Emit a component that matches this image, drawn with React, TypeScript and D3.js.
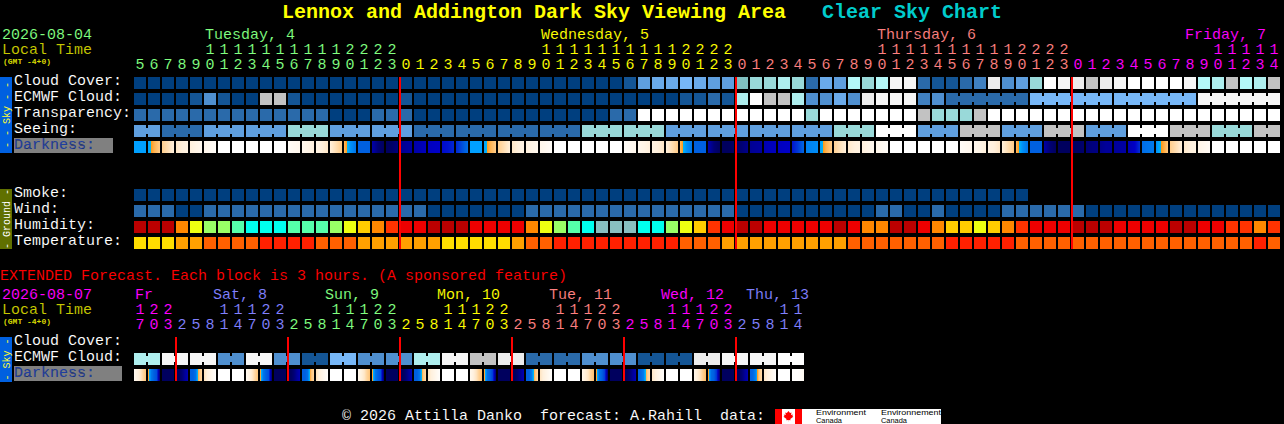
import React from "react";
import * as d3 from "d3";

// ---------- data: main forecast (one value per hour) ----------
const mainHours = [5,6,7,8,9,10,11,12,13,14,15,16,17,18,19,20,21,22,23,
  0,1,2,3,4,5,6,7,8,9,10,11,12,13,14,15,16,17,18,19,20,21,22,23,
  0,1,2,3,4,5,6,7,8,9,10,11,12,13,14,15,16,17,18,19,20,21,22,23,
  0,1,2,3,4,5,6,7,8,9,10,11,12,13,14];
const mainDayOfCol = [0,0,0,0,0,0,0,0,0,0,0,0,0,0,0,0,0,0,0,
  1,1,1,1,1,1,1,1,1,1,1,1,1,1,1,1,1,1,1,1,1,1,1,1,
  2,2,2,2,2,2,2,2,2,2,2,2,2,2,2,2,2,2,2,2,2,2,2,2,
  3,3,3,3,3,3,3,3,3,3,3,3,3,3,3];
const mainDayLabels = ["Tuesday, 4", "Wednesday, 5", "Thursday, 6", "Friday, 7"];
const mainDayLabelCols = [5, 29, 53, 75];

const cloudCover = [
  0,0,0,0,0,0,0,0,0,0, 0,0,0,0,0,0,0,0,0,0,
  0,0,0,0,0,0,0,0,0,0, 0,0,0,0,0,1,5,6,6,7,
  6,5,5,8,9,9,10,9,2,6, 5,11,9,11,14,14,2,1,1,2,
  3,13,4,5,9,15,14,13,12,13, 14,15,15,15,15,14,11,10,12,11,
  10,12];
const ecmwfCloud = [
  0,0,0,0,1,4,1,0,0,12, 12,1,0,0,0,0,0,0,0,1,
  0,0,0,0,0,0,0,0,0,0, 0,0,0,0,0,0,0,0,0,1,
  1,2,1,10,15,12,12,10,4,4, 6,4,13,14,14,14,3,4,2,2,
  2,2,2,2,7,7,7,7,7,7, 7,7,7,7,7,7,14,14,14,14,
  14,14];
const ecmwfBlockSizes = [1,1,1,1,1,1,1,1,1,1,1,1,1,1,1,1,1,1,1,1,1,1,1,1,1,1,1,1,1,
  1,1,1,1,1,1,1,1,1,1,1,1,1,1,1,1,1,1,1,1,1,1,1,1,1,1,1,1,1,6,6,6,6];
const transparency = [
  2,2,2,2,2,2,2,2,2,2, 2,2,2,2,0,0,0,2,2,2,
  0,0,0,0,0,0,0,0,0,0, 0,0,0,0,2,2,15,15,15,15,
  15,15,15,15,15,15,15,15,9,15, 15,15,15,15,15,15,12,9,9,9,
  12,15,15,15,15,15,15,15,15,15, 15,15,15,15,15,15,15,15,15,15,
  15,15];
const seeingBlocks = [5,2,5,5,9,5,5,2,2,2,2,9,9,5,5,5,5,9,15,5,12,5,12,5,15,12,9,12];
const seeingBlockSizes = [2,3,3,3,3,3,3,3,3,3,3,3,3,3,3,3,3,3,3,3,3,3,3,3,3,3,3,2];

// twilight level read across each cell: left, middle, right
const darkness = [
  [4,4,4],[4,5,5.6],[5.7,6.3,7],[6.6,7,7.2],[7,7.3,7.5],[7.4,7.6,7.8],[8,8,8],[8,8,8],[8,8,8],[8,8,8],
  [8,8,8],[7.8,7.6,7.5],[7.5,7.3,7],[7.2,7,6.6],[7,6.3,5.6],[5.2,3.8,3.3],[3,3,3],[1.3,0.5,0.2],[0.2,0.3,0.6],[0.8,1,1.2],
  [1.3,1.5,1.8],[1.8,1.9,2],[2.1,2.2,2.4],[2.4,2.8,3.2],[4,4,4],[4,5,5.6],[5.7,6.3,7],[6.6,7,7.2],[7,7.3,7.5],[7.4,7.6,7.8],
  [8,8,8],[8,8,8],[8,8,8],[8,8,8],[8,8,8],[7.8,7.6,7.5],[7.5,7.3,7],[7.2,7,6.6],[7,6.3,5.6],[5.2,3.8,3.3],
  [3,3,3],[1.3,0.5,0.2],[0.2,0.2,0.3],[0.3,0.5,0.8],[0.9,1,1.1],[1.5,1.7,1.8],[1.8,1.9,2],[2.2,2.6,3.1],[3.5,3.6,3.7],[3.9,5,5.6],
  [5.8,6.4,7],[6.7,7,7.2],[7,7.3,7.5],[7.4,7.6,7.8],[8,8,8],[8,8,8],[8,8,8],[8,8,8],[8,8,8],[7.8,7.6,7.5],
  [7.5,7.3,7],[7.2,7,6.6],[7,6.3,5.6],[5.2,3.8,3.3],[3,3,3],[1.2,0.5,0.2],[0.2,0.2,0.2],[0.2,0.3,0.4],[0.5,0.6,0.7],[0.8,1,1],
  [1,1.1,1.2],[1.5,1.9,2.5],[3.2,3.3,3.4],[3.7,4.6,5.5],[5.7,6.3,7],[6.7,7,7.2],[7.3,7.5,7.7],[8,8,8],[8,8,8],[8,8,8],
  [8,8,8],[8,8,8]];

const smoke = [
  0,0,0,0,0,0,0,0,0,0, 0,0,0,0,0,0,0,0,0,0,
  0,0,0,0,0,0,0,0,0,0, 0,0,0,0,0,0,0,0,0,0,
  0,0,0,0,0,0,0,0,0,0, 0,0,0,0,0,0,0,0,0,0,
  0,0,0,0];
const wind = [
  2,2,2,0,0,2,2,2,2,2, 2,2,2,2,2,2,2,2,2,2,
  2,0,0,0,0,0,0,0,2,2, 2,2,2,2,2,2,2,2,2,2,
  2,2,2,0,0,0,0,0,0,0, 0,0,0,2,2,0,0,2,0,0,
  0,0,2,2,2,2,2,2,0,0, 0,0,0,0,0,0,0,0,0,0,
  0,0];
const humidity = [
  0,0,0,3,5,6,6,7,8,8, 8,7,7,7,6,5,4,3,2,1,
  1,0,0,0,1,1,1,1,3,5, 6,7,8,9,9,9,8,8,6,5,
  4,2,1,0,0,1,1,1,1,1, 0,1,3,3,0,0,1,3,4,4,
  5,4,3,2,1,1,1,0,0,0, 1,1,1,1,0,0,1,1,2,2,
  3,2];
const temperature = [
  0,0,0,1,1,2,2,2,2,3, 3,3,3,2,2,2,1,1,1,1,
  1,1,0,0,0,0,0,1,2,2, 3,3,3,3,3,3,3,3,3,2,
  2,2,1,1,1,1,1,1,1,1, 1,2,2,2,2,2,2,2,3,3,
  3,3,3,2,2,2,2,2,2,2, 2,2,2,2,2,2,2,2,2,2,
  3,2];

// ---------- data: extended forecast (one value per three hours) ----------
const extHours = [17,20,23,
  2,5,8,11,14,17,20,23, 2,5,8,11,14,17,20,23, 2,5,8,11,14,17,20,23,
  2,5,8,11,14,17,20,23, 2,5,8,11,14,17,20,23, 2,5,8,11,14];
const extDayOfCol = [0,0,0, 1,1,1,1,1,1,1,1, 2,2,2,2,2,2,2,2, 3,3,3,3,3,3,3,3,
  4,4,4,4,4,4,4,4, 5,5,5,5,5,5,5,5, 6,6,6,6,6];
const extDayLabels = ["Fr", "Sat, 8", "Sun, 9", "Mon, 10", "Tue, 11", "Wed, 12", "Thu, 13"];
const extDayLabelCols = [0, 6, 14, 22, 30, 38, 44];
const extEcmwf = [10,10,14,14,14,14,4,4,14,14,4,4,1,1,7,7,4,4,4,4,10,10,14,14,12,12,13,13,2,2,2,2,4,4,4,4,1,1,1,1,13,13,14,14,14,14,15,15];
const extBlockSizes = [2,2,2,2,2,2,2,2,2,2,2,2,2,2,2,2,2,2,2,2,2,2,2,2];
const extDarkness = [
  [7.6,7.2,6.8,6,5.4],[5,3.4,3,2.8,0.3],[0.2,0.2,0.2,0.2,0.2],[0.2,0.2,0.5,1,1.6],[3,3,3.3,5.3,6],[6.4,7,7.3,7.6,7.9],[8,8,8,8,8],[8,8,8,8,8],
  [7.6,7.2,6.8,6,5.4],[5,3.4,3,2.8,0.3],[0.2,0.2,0.2,0.2,0.2],[0.2,0.2,0.5,1,1.6],[3,3,3.3,5.3,6],[6.4,7,7.3,7.6,7.9],[8,8,8,8,8],[8,8,8,8,8],
  [7.5,7.1,6.7,5.9,5.4],[5,3.4,3,2.8,0.3],[0.2,0.2,0.2,0.2,0.2],[0.2,0.2,0.5,1,1.6],[3,3,3.4,5.4,6.1],[6.5,7,7.3,7.6,7.9],[8,8,8,8,8],[8,8,8,8,8],
  [7.5,7.1,6.6,5.8,5.3],[5,3.3,3,2.6,0.3],[0.2,0.2,0.2,0.2,0.2],[0.2,0.2,0.5,1,1.6],[3,3,3.5,5.4,6.1],[6.5,7,7.3,7.6,7.9],[8,8,8,8,8],[8,8,8,8,8],
  [7.4,7,6.6,5.8,5.3],[5,3.3,3,2.6,0.3],[0.2,0.2,0.2,0.2,0.2],[0.2,0.2,0.5,1,1.6],[3,3.1,3.5,5.5,6.2],[6.6,7,7.3,7.6,7.9],[8,8,8,8,8],[8,8,8,8,8],
  [7.4,7,6.5,5.7,5.2],[4.9,3.2,3,2.5,0.3],[0.2,0.2,0.2,0.2,0.2],[0.2,0.2,0.5,1,1.6],[3,3.1,3.6,5.5,6.2],[6.6,7,7.3,7.6,7.9],[8,8,8,8,8],[7.9,7.9,7.9,7.8,7.6]];

// ---------- styles and scales ----------
const cloudRange = ["#003f7f","#145595","#2a6aaa","#4080c0","#4f8fcf","#5f9fdf","#6aaaea","#77b7f7","#80c0c0","#99d9d9","#aeeeee","#b3f7f7","#c2c2c2","#ececec","#f6f6f6","#ffffff"];
const humidityRange = ["#bb0000","#ee0000","#ff3300","#ff8800","#ffcc00","#eeff11","#99ff66","#55ffaa","#00ffee","#88c0c0"];
const temperatureRange = ["#ffdd00","#ffa000","#ff6000","#ff2000"];
const mainDayColors = ["#80ff80","#ffff00","#ff8080","#ff00ff"];
const extDayColors = ["#ff00ff","#8080ff","#80ff80","#ffff00","#ff8080","#ff00ff","#8080ff"];

const cloudColor = d3.scaleOrdinal<number, string>(d3.range(cloudRange.length), cloudRange);
const humidityColor = d3.scaleOrdinal<number, string>(d3.range(humidityRange.length), humidityRange);
const temperatureColor = d3.scaleOrdinal<number, string>(d3.range(temperatureRange.length), temperatureRange);
const darknessColor = d3.scaleLinear<string>()
  .domain([0, 1, 2, 3, 4, 4.5, 4.501, 5.5, 6.5, 7, 8])
  .range(["#00004f","#00009a","#0000c8","#0060e0","#00a0ff","#00b8f0","#ff9a18","#ffc880","#ffe4c0","#fff0dc","#ffffff"]);

const MONO = "'Liberation Mono', monospace";
const THIN = 0.08;
const CELL = 12;
const STEP = 14;
const colX = d3.scaleLinear().domain([0, 1]).range([134, 134 + STEP]);

function blockCols(sizes: number[]) {
  const starts: number[] = [];
  let c = 0;
  sizes.forEach((s) => { starts.push(c); c += s; });
  return starts;
}

function expand(values: number[], sizes: number[]) {
  return values.flatMap((v, i) => d3.range(sizes[i]).map(() => v));
}

const Cells = ({ values, y, color, sizes }: { values: number[]; y: number; color: (v: number) => string; sizes?: number[] }) => {
  const necks: number[] = [];
  if (sizes) {
    blockCols(sizes).forEach((start, b) => {
      d3.range(start, start + sizes[b] - 1).forEach((c) => necks.push(c));
    });
  }
  return (
    <g>
      {values.map((v, i) => (
        <rect key={i} x={colX(i)} y={y} width={CELL} height={CELL} fill={color(v)} />
      ))}
      {necks.map((c) => (
        <rect key={"n" + c} x={colX(c) + CELL} y={y + 3} width={STEP - CELL} height={CELL - 6} fill={color(values[c])} />
      ))}
    </g>
  );
};

const GradientCells = ({ samples, y }: { samples: number[][]; y: number }) => (
  <g shapeRendering="crispEdges">
    {samples.map((s, i) => {
      const level = d3.piecewise(d3.interpolateNumber, s);
      return d3.range(CELL).map((p) => (
        <rect key={i + "-" + p} x={colX(i) + p} y={y} width={1} height={CELL}
          fill={darknessColor(level((p + 0.5) / CELL))} />
      ));
    })}
  </g>
);

const T = ({ x, y, fill = "#fff", size = 15, weight, children }: any) => (
  <text x={x} y={y} fill={fill} fontFamily={MONO} fontSize={size} fontWeight={weight}
    stroke={size === 15 ? "#000" : "none"} strokeWidth={THIN} style={{ whiteSpace: "pre" }}>{children}</text>
);

const CenterDigit = ({ col, y, fill, children }: any) => (
  <text x={colX(col) + CELL / 2} y={y} fill={fill} fontFamily={MONO} fontSize={15} textAnchor="middle"
    stroke="#000" strokeWidth={THIN}>{children}</text>
);

const SideBar = ({ y, h, fill, color, label }: any) => (
  <g>
    <rect x={0} y={y} width={12} height={h} fill={fill} />
    <text transform={`translate(9.5,${y + h / 2}) rotate(-90)`} fill={color} fontFamily={MONO}
      fontSize={10} textAnchor="middle" style={{ whiteSpace: "pre" }}>{label}</text>
  </g>
);

const RedLine = ({ col, y1, y2 }: any) => (
  <rect x={colX(col) - 1} y={y1} width={2} height={y2 - y1} fill="#ff0000" />
);

const HourRows = ({ hours, dayOfCol, colors, tensY, onesY }: any) => (
  <g>
    {hours.map((h: number, i: number) => (
      <g key={i}>
        {h >= 10 && <CenterDigit col={i} y={tensY} fill={colors[dayOfCol[i]]}>{Math.floor(h / 10)}</CenterDigit>}
        <CenterDigit col={i} y={onesY} fill={colors[dayOfCol[i]]}>{h % 10}</CenterDigit>
      </g>
    ))}
  </g>
);

const LogoText = ({ x, y, w, children }: any) => (
  <text x={x} y={y} fill="#000" fontFamily="'Liberation Sans', sans-serif" fontSize={7.5}
    textLength={w} lengthAdjust="spacingAndGlyphs">{children}</text>
);

const extLabelOffset = [1, -5, -5, -5, -5, -5, -4];
const mainLines = [19, 43, 67];
const extLines = [3, 11, 19, 27, 35, 43];

export default function App() {
  document.body.style.margin = "0";
  return (
    <svg width={1284} height={424} style={{ position: "absolute", left: 0, top: 0, display: "block", background: "#000" }}>
      <rect width={1284} height={424} fill="#000" />
      {/* title */}
      <T x={282} y={18} fill="#ffff00" size={20} weight="bold">Lennox and Addington Dark Sky Viewing Area</T>
      <T x={822} y={18} fill="#00cccc" size={20} weight="bold">Clear Sky Chart</T>

      {/* main header */}
      <T x={2} y={39} fill={mainDayColors[0]}>2026-08-04</T>
      <T x={2} y={54} fill="#c8c800">Local Time</T>
      <T x={3} y={64} fill="#d8d800" size={8} weight="bold">(GMT -4+0)</T>
      {mainDayLabels.map((d, i) => (
        <T key={d} x={colX(mainDayLabelCols[i]) + 1} y={39} fill={mainDayColors[i]}>{d}</T>
      ))}
      <HourRows hours={mainHours} dayOfCol={mainDayOfCol} colors={mainDayColors} tensY={54} onesY={69} />

      {/* sky block */}
      <SideBar y={77} h={76} fill="#0060e0" color="#ffff30" label="- - Sky - -" />
      <T x={14} y={85}>Cloud Cover:</T>
      <T x={14} y={101}>ECMWF Cloud:</T>
      <T x={14} y={117}>Transparency:</T>
      <T x={14} y={133}>Seeing:</T>
      <rect x={14} y={138} width={99} height={15} fill="#808080" />
      <T x={14} y={149} fill="#1f3fa0">Darkness:</T>
      <Cells values={cloudCover} y={77} color={cloudColor} />
      <Cells values={ecmwfCloud} y={93} color={cloudColor} sizes={ecmwfBlockSizes} />
      <Cells values={transparency} y={109} color={cloudColor} />
      <Cells values={expand(seeingBlocks, seeingBlockSizes)} y={125} color={cloudColor} sizes={seeingBlockSizes} />
      <GradientCells samples={darkness} y={141} />

      {/* ground block */}
      <SideBar y={189} h={60} fill="#607000" color="#ffffff" label="- Ground -" />
      <T x={14} y={197}>Smoke:</T>
      <T x={14} y={213}>Wind:</T>
      <T x={14} y={229}>Humidity:</T>
      <T x={14} y={245}>Temperature:</T>
      <Cells values={smoke} y={189} color={cloudColor} />
      <Cells values={wind} y={205} color={cloudColor} />
      <Cells values={humidity} y={221} color={humidityColor} />
      <Cells values={temperature} y={237} color={temperatureColor} />
      {mainLines.map((c) => <RedLine key={c} col={c} y1={77} y2={249} />)}

      {/* extended */}
      <T x={0} y={280} fill="#ff0000">EXTENDED Forecast. Each block is 3 hours. (A sponsored feature)</T>
      <T x={2} y={299} fill={extDayColors[0]}>2026-08-07</T>
      <T x={2} y={314} fill="#c8c800">Local Time</T>
      <T x={3} y={324} fill="#d8d800" size={8} weight="bold">(GMT -4+0)</T>
      {extDayLabels.map((d, i) => (
        <T key={d} x={colX(extDayLabelCols[i]) + extLabelOffset[i]} y={299} fill={extDayColors[i]}>{d}</T>
      ))}
      <HourRows hours={extHours} dayOfCol={extDayOfCol} colors={extDayColors} tensY={314} onesY={329} />
      <SideBar y={337} h={45} fill="#0060e0" color="#ffff30" label="- Sky -" />
      <T x={14} y={345}>Cloud Cover:</T>
      <T x={14} y={361}>ECMWF Cloud:</T>
      <rect x={14} y={366} width={108} height={15} fill="#808080" />
      <T x={14} y={377} fill="#1f3fa0">Darkness:</T>
      <Cells values={extEcmwf} y={353} color={cloudColor} sizes={extBlockSizes} />
      <GradientCells samples={extDarkness} y={369} />
      {extLines.map((c) => <RedLine key={c} col={c} y1={337} y2={381} />)}

      {/* footer */}
      <T x={342} y={420}>{"© 2026 Attilla Danko  forecast: A.Rahill  data:"}</T>
      <rect x={775} y={409} width={166} height={15} fill="#fff" />
      <rect x={775} y={409} width={7} height={15} fill="#ff0000" />
      <rect x={795} y={409} width={7} height={15} fill="#ff0000" />
      <path d="M788.5 411 l1.5 2 1.5 -.5 -.5 2.5 2 -.5 -.7 1.5 1 .7 -3 2.3 .2 1.2 -2 -.3 V421.5 h-.2 v-1.6 l-2 .3 .2 -1.2 -3 -2.3 1 -.7 -.7 -1.5 2 .5 -.5 -2.5 1.5 .5z" fill="#ff0000" />
      <LogoText x={816} y={415} w={50}>Environment</LogoText>
      <LogoText x={816} y={423} w={26}>Canada</LogoText>
      <LogoText x={881} y={415} w={60}>Environnement</LogoText>
      <LogoText x={881} y={423} w={26}>Canada</LogoText>
    </svg>
  );
}
